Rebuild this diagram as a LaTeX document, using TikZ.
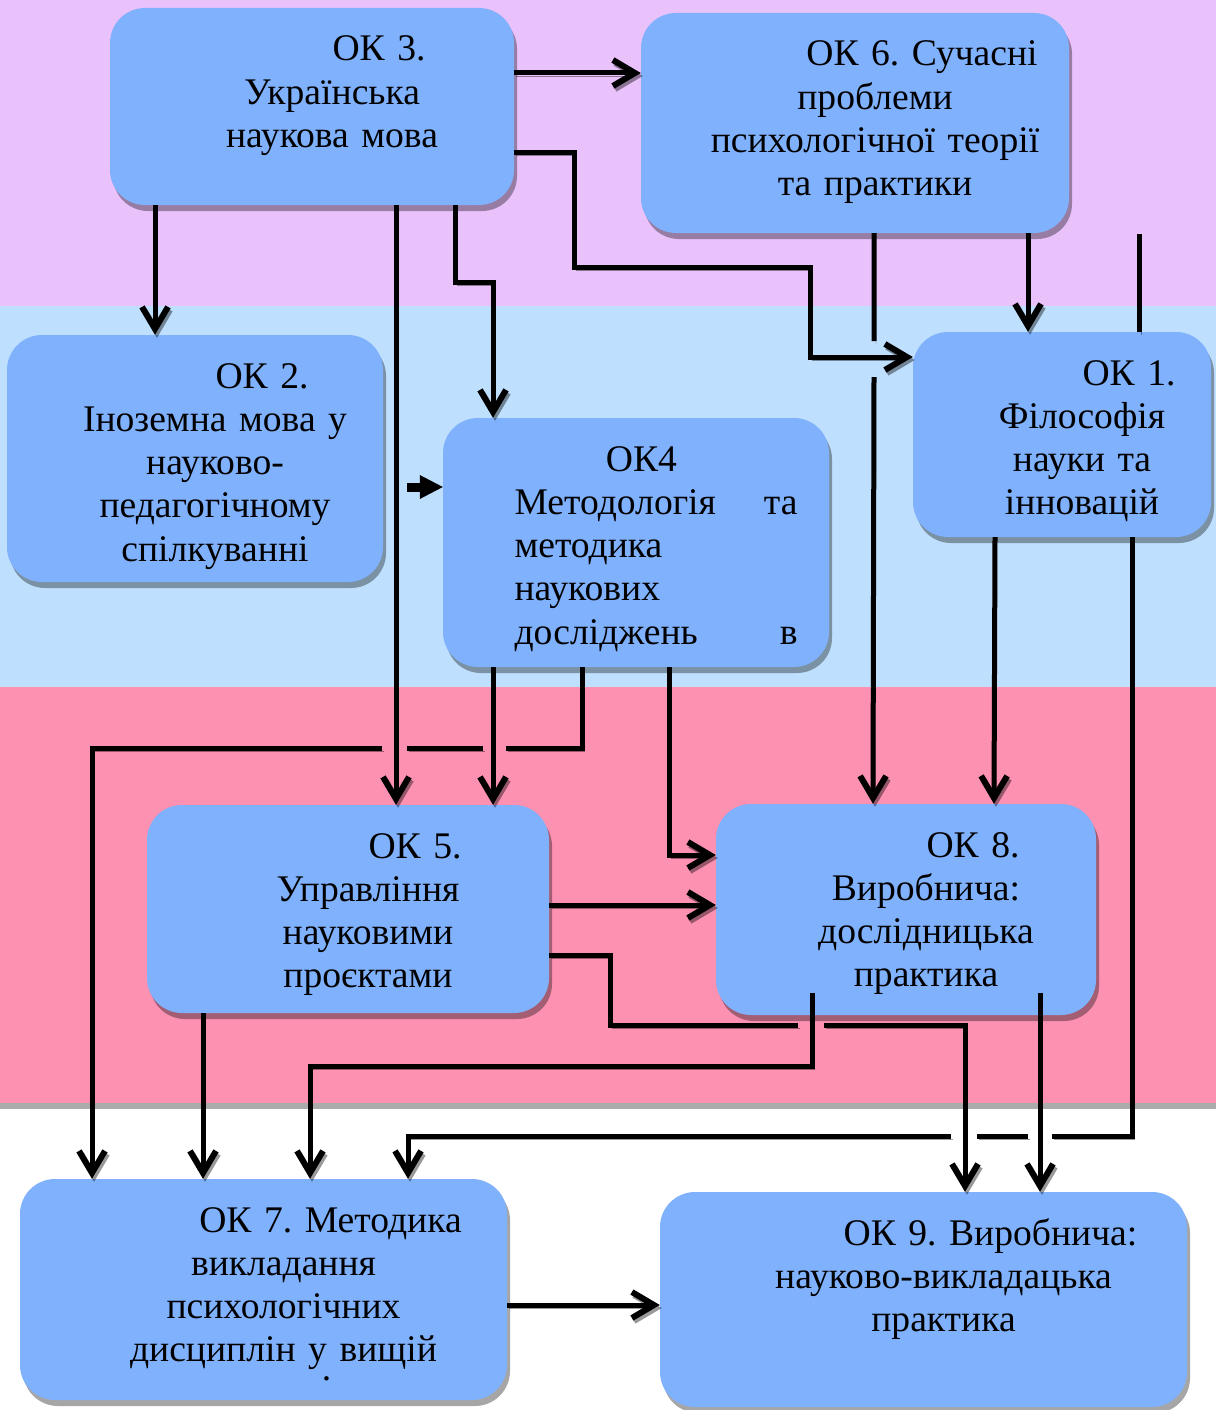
\documentclass[tikz,border=0pt]{standalone}
\usepackage{fontspec}
\setmainfont{Liberation Serif}
\usepackage{tikz}
\usetikzlibrary{shapes,backgrounds,shadows,arrows.meta,positioning}
\pgfdeclarelayer{background}
\pgfsetlayers{background,main}
\frenchspacing
\definecolor{bandtop}{RGB}{233,193,251}
\definecolor{bandmid}{RGB}{190,223,253}
\definecolor{bandlow}{RGB}{252,145,178}
\definecolor{okblue}{RGB}{128,177,253}
\newcommand{\okalign}{\centering\leftskip=40pt plus 1fil\relax}
\newcommand{\okhead}[1]{\hspace*{94pt}ОК #1}
\tikzstyle{okbox} = [fill=okblue, rounded corners=35pt, inner sep=0pt, text height=53pt, font=\fontsize{37.6}{43.3}\selectfont, drop shadow={shadow xshift=3pt, shadow yshift=-6pt, opacity=0.35, fill=black}, execute at begin node=\okalign]
\tikzstyle{lineshadow} = [preaction={draw=black, opacity=0.4, transform canvas={xshift=2pt,yshift=-3pt}}]
\tikzstyle{arrow} = [draw, line width=5pt, -{Straight Barb[length=22pt,width=26pt,line width=6pt]}, lineshadow]
\tikzstyle{line} = [draw, line width=5pt, lineshadow]
\tikzstyle{stub} = [draw, line width=9pt, -{Triangle[length=23pt,width=24pt,line width=0pt]}]
\newcommand{\okbox}[4]{node (ok#1) [okbox, text width=#2pt, text depth=#3pt] {#4}}

\begin{document}
\begin{tikzpicture}[x=1pt,y=-1pt]
\useasboundingbox (0,0) rectangle (1216,1410);
\begin{pgfonlayer}{background}
\fill[bandtop] (0,0) rectangle (1216,305.5);
\fill[bandmid] (0,305.5) rectangle (1216,687);
\fill[bandlow] (0,687) rectangle (1216,1103);
\fill[black!33] (0,1103) rectangle (1216,1109);
\end{pgfonlayer}

\path (312,106.5) \okbox{3}{404}{144}{\okhead{3.}\\Українська\\наукова мова};
\path (ok3)+(543,16.5) \okbox{6}{428}{167}{\okhead{6. Сучасні}\\проблеми\\психологічної теорії\\та практики};
\path (ok3)+(-117,352) \okbox{2}{376}{194}{\okhead{2.}\\Іноземна мова у\\науково-\\педагогічному\\спілкуванні};
\path (ok2)+(441,84) \okbox{4}{386}{196}{ОК4\kern29pt\\\makebox[283pt]{Методологія\hfill та}\\\makebox[283pt][l]{методика}\\\makebox[283pt][l]{наукових}\\\makebox[283pt]{досліджень\hfill в}};
\path (ok6)+(207,311.5) \okbox{1}{298}{152}{\okhead{1.}\\Філософія\\науки та\\інновацій};
\path (ok2)+(153,450.5) \okbox{5}{402}{155}{\okhead{5.}\\Управління\\науковими\\проєктами};
\path (ok5)+(558,0.5) \okbox{8}{380}{158}{\okhead{8.}\\Виробнича:\\дослідницька\\практика};
\path (ok5)+(-84.5,380.5) \okbox{7}{487}{168}{\okhead{7. Методика}\\викладання\\психологічних\\дисциплін у вищій\\\hspace*{86pt}\raisebox{25pt}{.}};
\path (ok8)+(17.5,390) \okbox{9}{527}{162}{\okhead{9. Виробнича:}\\науково-викладацька\\практика};

% from OK 3
\path [arrow] ([yshift=33.5pt]ok3.east) -- ([yshift=33.5pt]ok3.east -| ok6.west);
\path [arrow] ([yshift=-45.5pt]ok3.east) -- ++(60,0) -- ++(0,115) -- ++(236,0) |- ([yshift=77.5pt]ok1.west);
\path [arrow] ([xshift=-157pt]ok3.south) -- ([xshift=-40pt]ok2.north);
\path [arrow] ([xshift=84pt]ok3.south) -- ([xshift=48pt]ok5.north);
\path [arrow] ([xshift=143pt]ok3.south) -- ++(0,77) -| ([xshift=-143pt]ok4.north);

% from OK 6 and OK 1
\path [arrow] ([xshift=173pt]ok6.south) -- ([xshift=-34pt]ok1.north);
\path [arrow] ([xshift=19pt]ok6.south) -- ++(0,108) ++(0,36) -- ([xshift=-33pt]ok8.north);
\path (ok1.north)+(77,-98) coordinate (t1);
\path [line] (t1) -- ([xshift=77pt]ok1.north);
\path [arrow] ([xshift=-67pt]ok1.south) -- ([xshift=88pt]ok8.north);
\path [arrow] ([xshift=70pt]ok1.south) -- ++(0,599) -- ++(-80,0) ++(-24,0) -- ++(-51,0) ++(-26,0) -| ([xshift=144.5pt]ok7.north);

% from OK4
\path [stub] ([xshift=-36pt,yshift=55.5pt]ok4.west) -- ([yshift=55.5pt]ok4.west);
\path [arrow] ([xshift=-143pt]ok4.south) -- ([xshift=145pt]ok5.north);
\path [arrow] ([xshift=-54pt]ok4.south) -- ++(0,81) -- ++(-76,0) ++(-23,0) -- ++(-76,0) ++(-25,0) -| ([xshift=-171.5pt]ok7.north);
\path [arrow] ([xshift=33pt]ok4.south) |- ([yshift=54.5pt]ok8.west);

% from OK 5 and OK 8
\path [arrow] ([yshift=4pt]ok5.east) -- ([yshift=4pt]ok5.east -| ok8.west);
\path [arrow] ([yshift=-46pt]ok5.east) -- ++(61,0) -- ++(0,70) -- ++(188,0) ++(26,0) -| ([xshift=41.5pt]ok9.north);
\path [arrow] ([xshift=-145pt]ok5.south) -- ([xshift=-60.5pt]ok7.north);
\path [arrow] ([xshift=-94pt,yshift=22pt]ok8.south) -- ++(0,73) -| ([xshift=46.5pt]ok7.north);
\path [arrow] ([xshift=134pt,yshift=22pt]ok8.south) -- ([xshift=116.5pt]ok9.north);

% OK 7 to OK 9
\path [arrow] ([yshift=-15.5pt]ok7.east) -- ([yshift=-15.5pt]ok7.east -| ok9.west);
\end{tikzpicture}
\end{document}
